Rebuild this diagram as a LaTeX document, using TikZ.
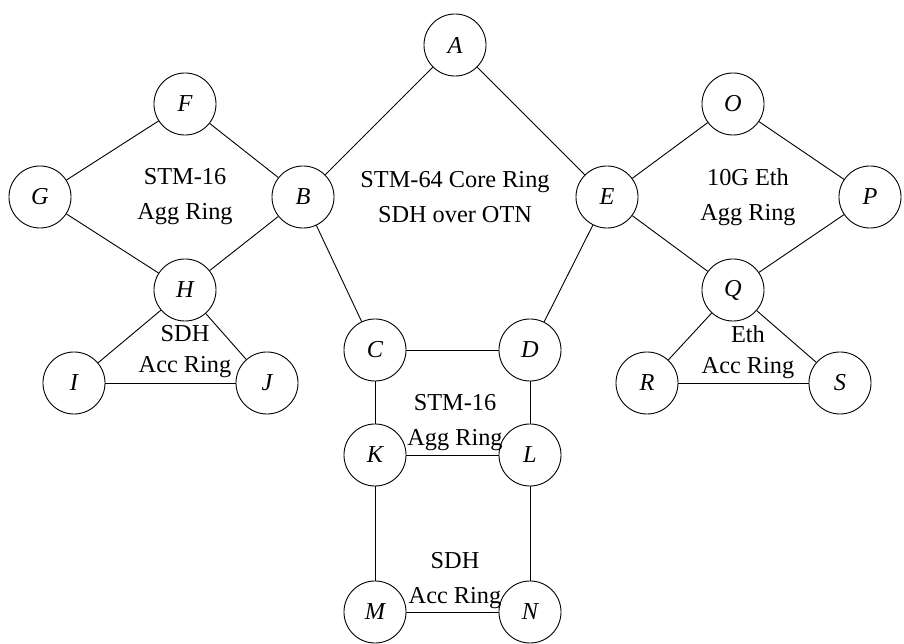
\documentclass[tikz,border=0pt]{standalone}
\usepackage{fontspec}
\setmainfont{Liberation Serif}

\tikzstyle{site} = [draw=black,circle,minimum size=27.3pt,inner sep=0pt,font=\fontsize{10.7pt}{12.8pt}\selectfont\itshape]
\tikzstyle{ring} = [align=center,text centered,font=\fontsize{10.7pt}{12.8pt}\selectfont]

\begin{document}
\begin{tikzpicture}[x=0.44pt,y=-0.44pt]
	\useasboundingbox (0,0) rectangle (904,644);
	% core ring
	\node (A) [site] at (455,45) {A};
	\node (B) [site] at (303,197) {B};
	\node (C) [site] at (375,350) {C};
	\node (D) [site] at (530,350) {D};
	\node (E) [site] at (607,197) {E};
	% left agg/acc
	\node (F) [site] at (185,104) {F};
	\node (G) [site] at (40,197) {G};
	\node (H) [site] at (185,290) {H};
	\node (I) [site] at (74,383) {I};
	\node (J) [site] at (267,383) {J};
	% right agg/acc
	\node (O) [site] at (733,104) {O};
	\node (P) [site] at (870,197) {P};
	\node (Q) [site] at (733,290) {Q};
	\node (R) [site] at (647,383) {R};
	\node (S) [site] at (840,383) {S};
	% lower agg/acc
	\node (K) [site] at (375,455) {K};
	\node (L) [site] at (530,455) {L};
	\node (M) [site] at (375,612) {M};
	\node (N) [site] at (530,612) {N};
	% ring labels
	\node (core) [ring] at (455,197) {STM-64 Core Ring\\[2.6pt]SDH over OTN};
	\node (aggl) [ring] at (185,197) {STM-16\\[2.6pt]Agg Ring};
	\node (aggr) [ring] at (748,197) {10G Eth\\[2.6pt]Agg Ring};
	\node (accl) [ring] at (185,352) {SDH\\[0.8pt]Acc Ring};
	\node (accr) [ring] at (748,352) {Eth\\[0.8pt]Acc Ring};
	\node (aggb) [ring] at (455,423) {STM-16\\[2.6pt]Agg Ring};
	\node (accb) [ring] at (455,581) {SDH\\[2.6pt]Acc Ring};
	% links
	\draw (A) -- (B);
	\draw (B) -- (C);
	\draw (C) -- (D);
	\draw (D) -- (E);
	\draw (E) -- (A);
	\draw (B) -- (F);
	\draw (F) -- (G);
	\draw (G) -- (H);
	\draw (H) -- (B);
	\draw (H) -- (I);
	\draw (I) -- (J);
	\draw (J) -- (H);
	\draw (E) -- (O);
	\draw (O) -- (P);
	\draw (P) -- (Q);
	\draw (Q) -- (E);
	\draw (Q) -- (R);
	\draw (R) -- (S);
	\draw (S) -- (Q);
	\draw (C) -- (K);
	\draw (K) -- (L);
	\draw (L) -- (D);
	\draw (K) -- (M);
	\draw (M) -- (N);
	\draw (N) -- (L);
\end{tikzpicture}
\end{document}
